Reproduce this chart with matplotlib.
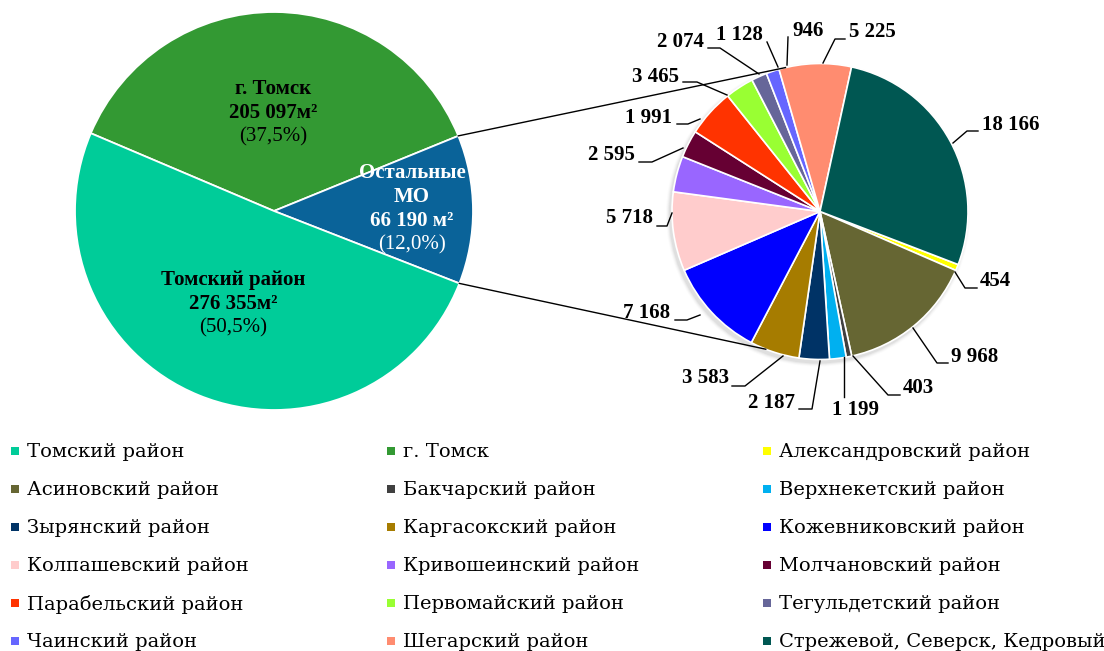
import matplotlib

matplotlib.use("Agg")
import matplotlib.pyplot as plt  # noqa: E402
from matplotlib.patches import Circle, Rectangle  # noqa: E402
import numpy as np  # noqa: E402

W, H = 1104, 651  # canvas in pixels, axes use pixel units (y up)

# left pie: total area by group
main_names = ["Томский район", "г. Томск", "Остальные МО"]
main_values = [276355, 205097, 66190]
main_pct = ["(50,5%)", "(37,5%)", "(12,0%)"]
main_colors = ["#00CC99", "#339933", "#0A6399"]

# right pie: breakdown of "Остальные МО"
mo_names = [
    "Александровский район", "Асиновский район", "Бакчарский район",
    "Верхнекетский район", "Зырянский район", "Каргасокский район",
    "Кожевниковский район", "Колпашевский район", "Кривошеинский район",
    "Молчановский район", "Парабельский район", "Первомайский район",
    "Тегульдетский район", "Чаинский район", "Шегарский район",
    "Стрежевой, Северск, Кедровый",
]
mo_values = [454, 9968, 403, 1199, 2187, 3583, 7168, 5718, 2595, 1991,
             3465, 2074, 1128, 946, 5225, 18166]
mo_colors = [
    "#FFFF00", "#666633", "#404040", "#00B0F0", "#003366", "#A67C00",
    "#0000FF", "#FFCCCC", "#9966FF", "#660033", "#FF3300", "#99FF33",
    "#666699", "#6666FF", "#FF8C70", "#005752",
]

# leader lines (pixel coords, y down) and label anchors for the right pie
label_layout = [
    ([(955, 272), (965, 288), (977, 288)], (980, 281), "left"),
    ([(913, 328), (937, 363), (948, 363)], (951, 357), "left"),
    ([(853, 356), (888, 395), (900, 395)], (903, 388), "left"),
    ([(844, 357), (844, 397)], (855, 410), "center"),
    ([(820, 361), (812, 409), (799, 409)], (795, 403), "right"),
    ([(783, 356), (745, 386), (732, 386)], (729, 378), "right"),
    ([(700, 315), (687, 320), (675, 320)], (670, 313), "right"),
    ([(672, 213), (667, 226), (657, 226)], (653, 218), "right"),
    ([(683, 148), (652, 162), (639, 162)], (635, 155), "right"),
    ([(700, 119), (688, 124), (677, 124)], (672, 118), "right"),
    ([(727, 95), (697, 82), (683, 82)], (679, 77), "right"),
    ([(759, 74), (720, 48), (708, 48)], (704, 42), "right"),
    ([(778, 67), (767, 42)], (763, 35), "right"),
    ([(787, 65), (788, 37)], (808, 31), "center"),
    ([(823, 63), (835, 39), (845, 39)], (849, 32), "left"),
    ([(953, 143), (967, 131), (978, 131)], (982, 125), "left"),
]

SERIF = ["Liberation Serif", "DejaVu Serif"]
LEG_SERIF = ["DejaVu Serif"]


def Y(y):
    return H - y


def fmt(v):
    return f"{v:,}".replace(",", " ")


fig = plt.figure(figsize=(W / 100, H / 100), dpi=100)
ax = fig.add_axes([0, 0, 1, 1])

# --- left pie ---
lc, lr = (274, 211), 199
order = [1, 2, 0]  # clockwise: г. Томск, Остальные МО, Томский район
wedges_l, _ = ax.pie(
    [main_values[i] for i in order],
    colors=[main_colors[i] for i in order],
    center=(lc[0], Y(lc[1])), radius=lr, startangle=157, counterclock=False,
    wedgeprops=dict(edgecolor="white", linewidth=1.3),
)
other = wedges_l[1]

# --- right pie ---
rc, rr = (820, 211.5), 148
for k, a in enumerate(np.linspace(0.10, 0.03, 4)):
    ax.add_patch(Circle((rc[0] - 2, Y(rc[1]) - 3), rr + 1 + k, color="#808080",
                        alpha=a, lw=0, zorder=0.5))
ax.pie(
    mo_values, colors=mo_colors, center=(rc[0], Y(rc[1])), radius=rr,
    startangle=-21, counterclock=False,
    wedgeprops=dict(edgecolor="white", linewidth=1.2),
)

# connector lines between the pies
for th_l, th_r in [(other.theta2, 103.5), (other.theta1, -111.5)]:
    p0 = (lc[0] + lr * np.cos(np.radians(th_l)), Y(lc[1]) + lr * np.sin(np.radians(th_l)))
    p1 = (rc[0] + rr * np.cos(np.radians(th_r)), Y(rc[1]) + rr * np.sin(np.radians(th_r)))
    ax.plot([p0[0], p1[0]], [p0[1], p1[1]], color="black", lw=1.0, zorder=3)

# labels on the left pie
big = 15
left_labels = [
    (main_names[1], fmt(main_values[1]) + "м²", main_pct[1], (273, 89), "black"),
    ("Остальные\nМО", fmt(main_values[2]) + " м²", main_pct[2], (412, 173), "white"),
    (main_names[0], fmt(main_values[0]) + "м²", main_pct[0], (233, 280), "black"),
]
for name, val, pct, (x, y), col in left_labels:
    lines = name.split("\n") + [val]
    for j, ln in enumerate(lines):
        ax.text(x, Y(y + 24 * j), ln, ha="center", va="center", fontsize=big,
                fontweight="bold", color=col, family=SERIF, zorder=4)
    ax.text(x, Y(y + 24 * len(lines)), pct, ha="center", va="center",
            fontsize=big, color=col, family=SERIF, zorder=4)

# labels on the right pie
for v, (pts, (tx, ty), ha) in zip(mo_values, label_layout):
    xs = [p[0] for p in pts]
    ys = [Y(p[1]) for p in pts]
    ax.plot(xs, ys, color="black", lw=1.0, zorder=3)
    ax.text(tx, Y(ty), fmt(v), ha=ha, va="center", fontsize=big,
            fontweight="bold", family=SERIF, zorder=4)

# legend, row-major in three columns
leg_names = main_names[:2] + mo_names
leg_colors = main_colors[:2] + mo_colors
col_x = [11, 387, 763]
for i, (name, c) in enumerate(zip(leg_names, leg_colors)):
    row, col = divmod(i, 3)
    y = 451 + row * 38
    ax.add_patch(Rectangle((col_x[col], Y(y) - 4), 8, 8, color=c, lw=0))
    ax.text(col_x[col] + 16, Y(y) - 1, name, ha="left", va="center",
            fontsize=14, family=LEG_SERIF)

ax.set_xlim(0, W)
ax.set_ylim(0, H)
ax.set_aspect("equal")
ax.axis("off")

fig.savefig("out.png", dpi=100)
